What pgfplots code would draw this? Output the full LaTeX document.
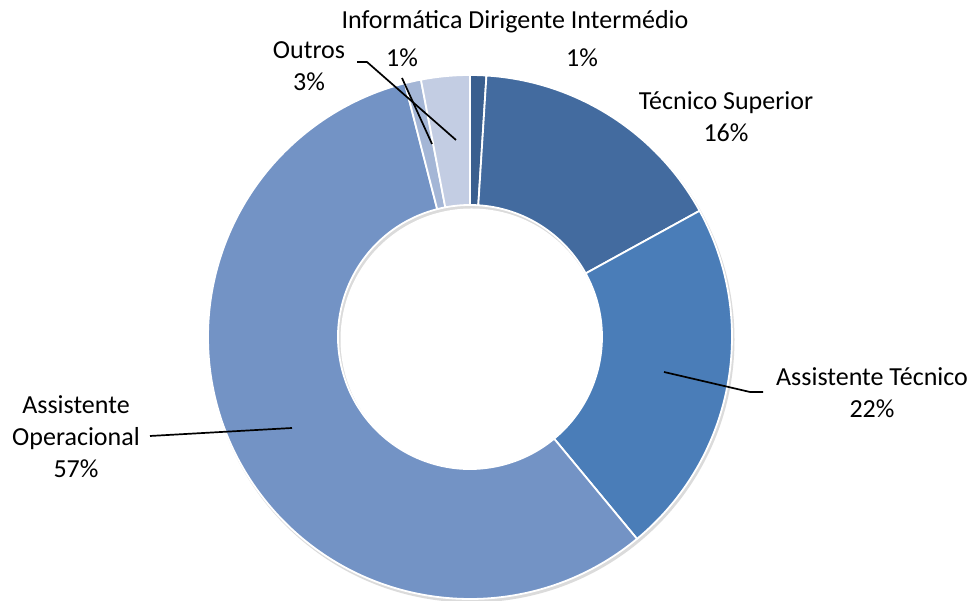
\documentclass[border=0pt]{standalone}
\usepackage{pgfplots}
\pgfplotsset{compat=1.18}
\usepackage{pgfplotstable}
\usepackage{fontspec}
\setmainfont{Carlito}

\definecolor{cDir}{HTML}{3A5F8F}
\definecolor{cSup}{HTML}{436B9F}
\definecolor{cTec}{HTML}{4A7DB8}
\definecolor{cOpe}{HTML}{7393C5}
\definecolor{cInf}{HTML}{A4B6D6}
\definecolor{cOut}{HTML}{C3CDE3}

% shares in percent, clockwise from 12 o'clock
\pgfplotstableread[col sep=comma]{
name,pct,col
Dirigente Intermédio,1,cDir
Técnico Superior,16,cSup
Assistente Técnico,22,cTec
Assistente Operacional,57,cOpe
Informática,1,cInf
Outros,3,cOut
}\shares

\begin{document}
\begin{tikzpicture}
\begin{axis}[
    x=1pt, y=1pt,
    xmin=0, xmax=975, ymin=0, ymax=601,
    hide axis, clip=false,
    font=\fontsize{26}{32}\selectfont,
  ]
  \coordinate (bl) at (axis cs:0,0);
  \coordinate (tr) at (axis cs:975,601);
  \def\cx{470}\def\cy{264}
  \def\ro{262pt}\def\ri{132pt}
  % faint shadow round the ring
  \fill[black!14] ([shift={(1.5pt,-2.5pt)}]axis cs:\cx,\cy) circle[radius=263pt];
  \fill[white] ([shift={(1.5pt,-2.5pt)}]axis cs:\cx,\cy) circle[radius=131pt];
  \pgfplotstablegetrowsof{\shares}
  \pgfmathtruncatemacro\N{\pgfplotsretval-1}
  \def\angA{90}
  \pgfplotsforeachungrouped \i in {0,...,\N}{
    \pgfplotstablegetelem{\i}{pct}\of\shares \let\v\pgfplotsretval
    \pgfplotstablegetelem{\i}{col}\of\shares \let\c\pgfplotsretval
    \pgfmathsetmacro\angB{\angA-3.6*\v}
    \edef\temp{\noexpand\filldraw[fill=\c, draw=white, line width=1.8pt, line join=round]
      ([shift={(\angA:\ro)}]axis cs:\cx,\cy) arc[start angle=\angA, end angle=\angB, radius=\ro]
      -- ([shift={(\angB:\ri)}]axis cs:\cx,\cy) arc[start angle=\angB, end angle=\angA, radius=\ri]
      -- cycle;}
    \temp
    \global\let\angA\angB
  }
  % leader lines
  \draw[line width=1.7pt] (axis cs:357,539) -- (axis cs:367,539) -- (axis cs:456,461);
  \draw[line width=1.7pt] (axis cs:402,523) -- (axis cs:432,457);
  \draw[line width=1.7pt] (axis cs:664,229) -- (axis cs:750,209) -- (axis cs:763,209);
  \draw[line width=1.7pt] (axis cs:150,165) -- (axis cs:292,173);
  % data labels
  \node[anchor=west] at (axis cs:338,579) {Informática Dirigente Intermédio};
  \node at (axis cs:402,543) {1\%};
  \node at (axis cs:582,543) {1\%};
  \node[align=center] at (axis cs:309,535) {Outros\\3\%};
  \node[align=center] at (axis cs:726,484) {Técnico Superior\\16\%};
  \node[align=center] at (axis cs:872,208) {Assistente Técnico\\22\%};
  \node[align=center] at (axis cs:76,164) {Assistente\\Operacional\\57\%};
\end{axis}
\pgfresetboundingbox
\path (bl) rectangle (tr);
\end{tikzpicture}
\end{document}
